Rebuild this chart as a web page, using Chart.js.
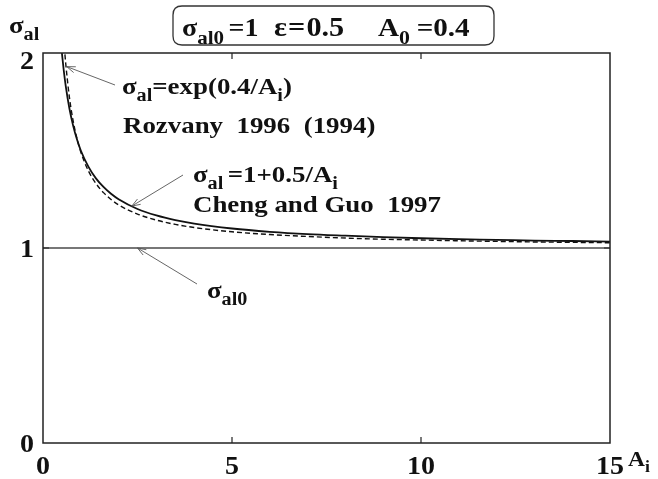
<!DOCTYPE html>
<html><head><meta charset="utf-8">
<script src="https://cdn.jsdelivr.net/npm/chart.js@4/dist/chart.umd.min.js"></script>
<style>html,body{margin:0;padding:0;background:#fff}</style>
</head><body>
<canvas id="c" width="658" height="479"></canvas>
<script>
// ---- data ----
const xTicks = [0, 5, 10, 15];
const yTicks = [0, 1, 2];
// Cheng and Guo 1997 : sigma_al = 1 + 0.5/A_i  (solid)
const chengA = [0.5, 0.55, 0.6, 0.7, 0.8, 0.9, 1, 1.2, 1.4, 1.6, 1.8, 2, 2.5, 3, 3.5, 4, 5, 6, 7, 8, 9, 10, 11, 12, 13, 14, 15];
const chengS = [2.0, 1.909, 1.833, 1.714, 1.625, 1.556, 1.5, 1.417, 1.357, 1.313, 1.278, 1.25, 1.2, 1.167, 1.143, 1.125, 1.1, 1.083, 1.071, 1.063, 1.056, 1.05, 1.045, 1.042, 1.038, 1.036, 1.033];
// Rozvany 1996 (1994) : sigma_al = exp(0.4/A_i)  (dashed)
const rozA = [0.58, 0.6, 0.7, 0.8, 0.9, 1, 1.2, 1.4, 1.6, 1.8, 2, 2.5, 3, 3.5, 4, 5, 6, 7, 8, 9, 10, 11, 12, 13, 14, 15];
const rozS = [1.993, 1.948, 1.771, 1.649, 1.560, 1.492, 1.396, 1.331, 1.284, 1.249, 1.221, 1.174, 1.143, 1.121, 1.105, 1.083, 1.069, 1.059, 1.051, 1.045, 1.041, 1.037, 1.034, 1.031, 1.029, 1.027];
// sigma_al0 = 1
const baseA = [0, 15];
const baseS = [1, 1];

const FONT = '"Liberation Serif", "Times New Roman", serif';
const SX = 1.12;
const pts = (xs, ys) => xs.map((x, i) => ({x: x, y: ys[i]}));

// draws text parts [text, isSub, extraGap] with a slight horizontal stretch
function rich(ctx, parts, x, y, size, align) {
  ctx.save();
  ctx.textAlign = 'left';
  let w = 0;
  for (const [t, sub, gap] of parts) {
    ctx.font = 'bold ' + (sub ? size * 0.75 : size) + 'px ' + FONT;
    w += ctx.measureText(t).width + (gap || 0);
  }
  ctx.translate(x, y);
  ctx.scale(SX, 1);
  let cx = align === 'center' ? -w / 2 : (align === 'right' ? -w : 0);
  for (const [t, sub, gap] of parts) {
    ctx.font = 'bold ' + (sub ? size * 0.75 : size) + 'px ' + FONT;
    ctx.fillText(t, cx, sub ? size * 0.3 : 0);
    cx += ctx.measureText(t).width + (gap || 0);
  }
  ctx.restore();
}
function arrow(ctx, x1, y1, x2, y2) {
  ctx.beginPath(); ctx.moveTo(x1, y1); ctx.lineTo(x2, y2); ctx.stroke();
  const a = Math.atan2(y2 - y1, x2 - x1), L = 9, w = 0.35;
  ctx.beginPath();
  ctx.moveTo(x2 - L * Math.cos(a - w), y2 - L * Math.sin(a - w));
  ctx.lineTo(x2, y2);
  ctx.lineTo(x2 - L * Math.cos(a + w), y2 - L * Math.sin(a + w));
  ctx.stroke();
}
function roundRect(ctx, x, y, w, h, r) {
  ctx.beginPath();
  ctx.moveTo(x + r, y); ctx.lineTo(x + w - r, y); ctx.quadraticCurveTo(x + w, y, x + w, y + r);
  ctx.lineTo(x + w, y + h - r); ctx.quadraticCurveTo(x + w, y + h, x + w - r, y + h);
  ctx.lineTo(x + r, y + h); ctx.quadraticCurveTo(x, y + h, x, y + h - r);
  ctx.lineTo(x, y + r); ctx.quadraticCurveTo(x, y, x + r, y); ctx.closePath();
}

const decor = {
  id: 'decor',
  afterDraw(chart) {
    const ctx = chart.ctx, a = chart.chartArea, xs = chart.scales.x, ys = chart.scales.y;
    ctx.save();
    // frame
    ctx.strokeStyle = '#222'; ctx.lineWidth = 1.5;
    ctx.strokeRect(a.left, a.top, a.right - a.left, a.bottom - a.top);
    // inner ticks
    ctx.lineWidth = 1.2;
    xTicks.slice(1, -1).forEach(v => {
      const px = xs.getPixelForValue(v);
      ctx.beginPath(); ctx.moveTo(px, a.bottom); ctx.lineTo(px, a.bottom - 6);
      ctx.moveTo(px, a.top); ctx.lineTo(px, a.top + 6); ctx.stroke();
    });
    yTicks.slice(1, -1).forEach(v => {
      const py = ys.getPixelForValue(v);
      ctx.beginPath(); ctx.moveTo(a.left, py); ctx.lineTo(a.left + 6, py);
      ctx.moveTo(a.right, py); ctx.lineTo(a.right - 6, py); ctx.stroke();
    });
    ctx.fillStyle = '#111';
    ctx.textBaseline = 'alphabetic';
    // tick labels
    xTicks.forEach(v => rich(ctx, [[String(v)]], xs.getPixelForValue(v), a.bottom + 31, 25, 'center'));
    yTicks.forEach(v => {
      const py = Math.max(ys.getPixelForValue(v), a.top + 7);
      rich(ctx, [[String(v)]], a.left - 9, py + 9, 25, 'right');
    });
    // axis titles
    rich(ctx, [['σ'], ['al', 1]], 9, 33, 24);
    rich(ctx, [['A'], ['i', 1]], 628, 466, 21);
    // parameter box
    ctx.strokeStyle = '#333'; ctx.lineWidth = 1.3;
    roundRect(ctx, 173, 6, 321, 39, 9); ctx.stroke();
    rich(ctx, [['σ'], ['al0', 1, 4], ['=1']], 182, 36, 25);
    rich(ctx, [['ε', 0, 1], ['=', 0, 1], ['0.5']], 274, 36, 27);
    rich(ctx, [['A'], ['0', 1, 6], ['=0.4']], 378, 36, 26);
    // annotations
    rich(ctx, [['σ'], ['al', 1], ['=exp(0.4/A'], ['i', 1], [')']], 122, 94, 24);
    rich(ctx, [['Rozvany  1996  (1994)']], 123, 133, 24);
    rich(ctx, [['σ'], ['al', 1, 4], ['=1+0.5/A'], ['i', 1]], 193, 182, 24);
    rich(ctx, [['Cheng and Guo  1997']], 193, 212, 24);
    rich(ctx, [['σ'], ['al0', 1]], 207, 298, 24);
    ctx.strokeStyle = '#555'; ctx.lineWidth = 0.9;
    arrow(ctx, 115, 85, xs.getPixelForValue(0.63), ys.getPixelForValue(1.93));
    arrow(ctx, 183, 175, xs.getPixelForValue(2.35), ys.getPixelForValue(1.215));
    arrow(ctx, 197, 284, xs.getPixelForValue(2.5), ys.getPixelForValue(1.0));
    ctx.restore();
  }
};

new Chart(document.getElementById('c'), {
  type: 'scatter',
  data: {
    datasets: [
      {data: pts(baseA, baseS), showLine: true, borderColor: '#777', borderWidth: 1.8, pointRadius: 0},
      {data: pts(chengA, chengS), showLine: true, borderColor: '#111', borderWidth: 1.8, pointRadius: 0, cubicInterpolationMode: 'monotone'},
      {data: pts(rozA, rozS), showLine: true, borderColor: '#111', borderWidth: 1.4, borderDash: [5, 3], pointRadius: 0, cubicInterpolationMode: 'monotone'}
    ]
  },
  options: {
    responsive: false, animation: false,
    layout: {padding: {left: 0, top: 53, right: 48, bottom: 0}},
    plugins: {legend: {display: false}, tooltip: {enabled: false}},
    scales: {
      x: {
        type: 'linear', min: 0, max: 15,
        afterBuildTicks: s => { s.ticks = xTicks.map(v => ({value: v})); },
        afterFit: s => { s.height = 36; },
        grid: {display: false, drawTicks: false},
        border: {display: false},
        ticks: {display: false}
      },
      y: {
        type: 'linear', min: 0, max: 2,
        afterBuildTicks: s => { s.ticks = yTicks.map(v => ({value: v})); },
        afterFit: s => { s.width = 43; },
        grid: {display: false, drawTicks: false},
        border: {display: false},
        ticks: {display: false}
      }
    }
  },
  plugins: [decor]
});
</script>
</body></html>
